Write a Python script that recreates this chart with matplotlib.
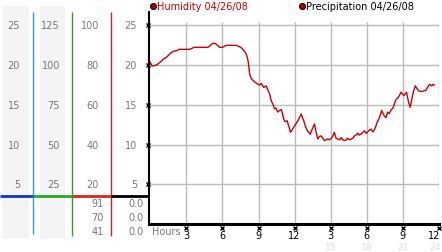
import matplotlib
matplotlib.use("Agg")
import matplotlib.pyplot as plt
import matplotlib.transforms as mtransforms

# humidity trace, hours since midnight vs value
hours = [0.0, 0.15, 0.5, 0.75, 0.93, 1.1, 1.34, 1.55, 1.76, 2.0, 2.17, 2.4, 2.59, 3.0, 3.3,
         3.64, 4.0, 4.4, 4.8, 5.0, 5.2, 5.4, 5.6, 5.77, 6.0, 6.3, 6.7, 7.15, 7.4, 7.57,
         7.8, 7.98, 8.1, 8.17, 8.26, 8.4, 8.67, 8.95, 9.1, 9.23, 9.44, 9.64, 9.8, 9.92,
         10.06, 10.2, 10.33, 10.45, 10.6, 10.75, 10.9, 11.0, 11.1, 11.2, 11.38, 11.5,
         11.66, 11.8, 11.93, 12.1, 12.27, 12.4, 12.55, 12.65, 12.76, 12.9, 13.05, 13.2,
         13.3, 13.45, 13.65, 13.8, 13.93, 14.05, 14.2, 14.35, 14.48, 14.6, 14.76, 14.9,
         15.04, 15.15, 15.3, 15.45, 15.6, 15.75, 15.87, 16.0, 16.14, 16.3, 16.4, 16.55,
         16.7, 16.85, 16.97, 17.1, 17.25, 17.35, 17.5, 17.65, 17.8, 17.95, 18.07, 18.2,
         18.35, 18.5, 18.6, 18.75, 18.86, 19.05, 19.24, 19.35, 19.46, 19.6, 19.73, 19.85,
         20.0, 20.2, 20.37, 20.5, 20.65, 20.85, 21.0, 21.1, 21.3, 21.45, 21.6, 21.7, 21.8,
         21.9, 22.03, 22.15, 22.3, 22.45, 22.64, 22.8, 22.9, 23.05, 23.2, 23.3, 23.4,
         23.5, 23.6]
humidity = [20.4, 19.9, 20.0, 20.3, 20.5, 20.8, 21.0, 21.3, 21.6, 21.8, 21.8, 22.0, 22.0, 22.0, 22.0,
            22.25, 22.25, 22.25, 22.25, 22.5, 22.75, 22.75, 22.5, 22.25, 22.25, 22.5, 22.5, 22.5, 22.35, 22.2,
            21.8, 21.4, 20.8, 20.15, 18.9, 18.3, 17.9, 17.6, 17.5, 17.7, 17.2, 17.4, 16.8, 16.4,
            15.5, 15.1, 14.5, 14.6, 14.1, 14.3, 14.4, 13.85, 13.2, 12.9, 13.0, 12.4,
            11.55, 11.9, 12.2, 12.6, 13.0, 13.4, 13.85, 13.4, 13.0, 12.3, 11.75, 11.5,
            11.3, 11.9, 12.6, 11.5, 10.7, 11.0, 11.1, 10.8, 10.5, 10.6, 10.7, 10.6,
            10.8, 11.0, 11.55, 10.8, 10.7, 10.6, 10.9, 10.6, 10.5, 10.6, 10.8, 10.6,
            10.7, 10.8, 11.1, 11.2, 11.45, 11.2, 11.3, 11.5, 11.75, 11.4, 11.6, 11.8,
            11.95, 11.6, 11.75, 12.3, 12.8, 13.4, 14.3, 13.9, 13.6, 13.4, 14.1, 13.9,
            14.3, 14.7, 15.5, 15.8, 16.0, 16.6, 16.3, 16.2, 16.6, 15.5, 14.7, 15.4, 16.2,
            16.8, 17.4, 17.1, 16.8, 16.7, 16.7, 16.8, 16.8, 17.2, 17.6, 17.5, 17.4,
            17.6, 17.5]

yticks = [5, 10, 15, 20, 25]
xticks = [3, 6, 9, 12, 15, 18, 21, 24]
xlabels = ["3", "6", "9", "12", "3", "6", "9", "12"]
xlabels_24h = ["", "", "", "", "15", "18", "21", "24"]

# left side scales (one column per scale)
col_labels = [
    ["5", "10", "15", "20", "25"],
    ["25", "50", "75", "100", "125"],
    ["20", "40", "60", "80", "100"],
    ["5", "10", "15", "20", "25"],
]
extra_col3 = ["91", "70", "41"]
extra_col4 = ["0.0", "0.0", "0.0"]

FS = 7
GREY = "#777777"
RED = "#cc0000"

fig = plt.figure(figsize=(4.42, 2.53), dpi=100)

# pixel-space overlay for the side panel
deco = fig.add_axes([0, 0, 1, 1], zorder=0)
deco.set_xlim(0, 442)
deco.set_ylim(253, 0)
deco.axis("off")

ax = fig.add_axes([149 / 442, 28 / 253, 290 / 442, 212 / 253], zorder=1)
ax.patch.set_alpha(0)
ax.set_xlim(-0.1, 24)
ax.set_ylim(0, 26.7)

for s in ["top", "right"]:
    ax.spines[s].set_visible(False)
ax.spines["left"].set_linewidth(1.5)
ax.spines["bottom"].set_linewidth(2.2)
ax.set_xticks([])
ax.set_yticks([])

# grid
ax.hlines(yticks, -0.1, 24, color="#bbbbbb", lw=1, zorder=1)
ax.vlines(xticks, 0, 25.4, color="#bbbbbb", lw=1, zorder=1)

ax.plot(hours, humidity, color=RED, lw=1, zorder=3)

# tick marks
ax.plot([-0.22] * len(yticks), yticks, "x", color="black", ms=2.5, mew=1, clip_on=False)
ax.plot(xticks, [-0.55] * len(xticks), "x", color="black", ms=2.5, mew=1, clip_on=False)
for i, (x, l, l2) in enumerate(zip(xticks, xlabels, xlabels_24h)):
    last = i == len(xticks) - 1
    ha = "right" if last else "center"
    xx = x + 0.1 if last else x
    ax.text(xx, -1.4, l, ha=ha, va="center", fontsize=FS, color="black")
    if l2:
        ax.text(xx, -2.85, l2, ha=ha, va="center", fontsize=6.5, color="#dddddd")
ax.text(0.15, -0.85, "Hours", ha="left", va="center", fontsize=FS, color=GREY)

# legend at top
deco.plot(153, 7, "o", ms=4.5, color="#aa0000", mec="black", mew=0.6)
deco.text(157, 7, "Humidity 04/26/08", ha="left", va="center", fontsize=FS, color=RED)
deco.plot(302, 7, "o", ms=4.5, color="#aa0000", mec="black", mew=0.6)
deco.text(306, 7, "Precipitation 04/26/08", ha="left", va="center", fontsize=FS, color="black")

# side panel
deco.add_patch(plt.Rectangle((2, 7), 27, 233, color="#f4f4f4", lw=0))
deco.add_patch(plt.Rectangle((40, 7), 25, 233, color="#f4f4f4", lw=0))
deco.vlines(33, 13, 235, color="#2a9fd0", lw=1)
deco.vlines(72, 13, 237, color="#2aa02a", lw=1)
deco.vlines(111, 13, 237, color="#cc2222", lw=1)
deco.hlines(197, 0, 33, color="#1133cc", lw=2)
deco.hlines(197, 33, 72, color="#22aa22", lw=2)
deco.hlines(197, 72, 111, color="#dd2222", lw=2)
deco.hlines(197, 111, 149, color="black", lw=2)

blend = mtransforms.blended_transform_factory(deco.transData, ax.transData)
col_right = [20, 60, 99, 137]
for xr, labels in zip(col_right, col_labels):
    for v, l in zip(yticks, labels):
        deco.text(xr, v, l, ha="right", va="center", fontsize=FS, color=GREY, transform=blend)

for y, a, b in zip([204, 218, 232], extra_col3, extra_col4):
    deco.text(104, y, a, ha="right", va="center", fontsize=FS, color=GREY)
    deco.text(144, y, b, ha="right", va="center", fontsize=FS, color=GREY)

fig.savefig("out.png", dpi=100)
